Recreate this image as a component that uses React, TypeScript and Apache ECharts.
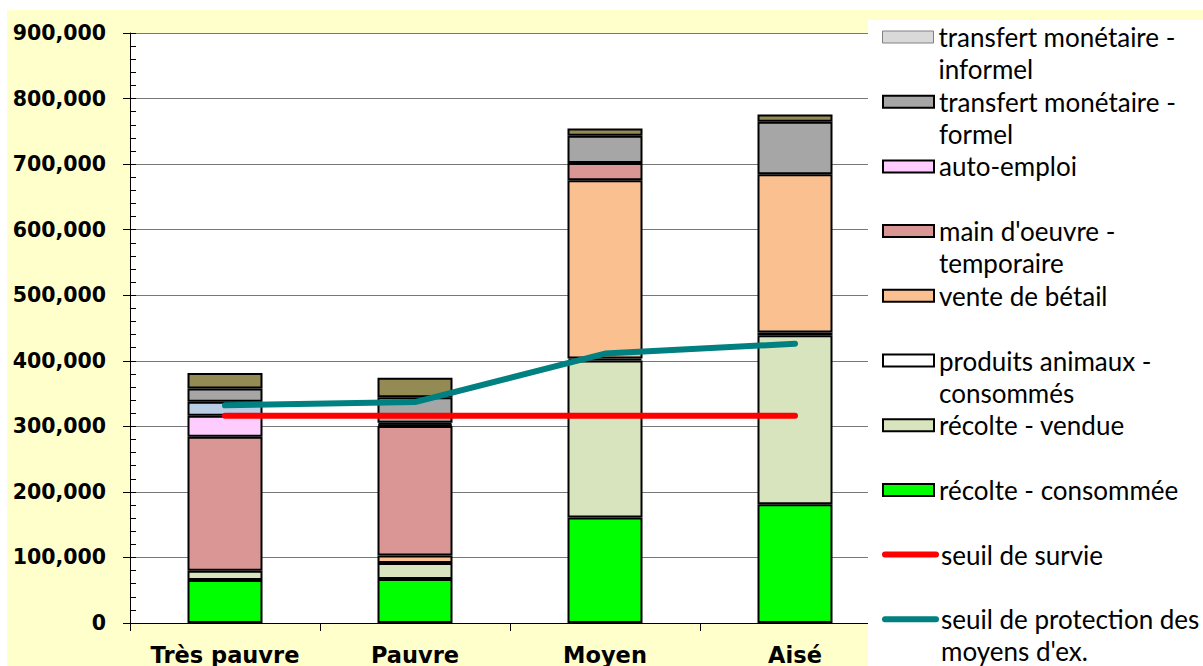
import React, { useEffect, useRef } from 'react';
import * as echarts from 'echarts';

const categories = ['Très pauvre', 'Pauvre', 'Moyen', 'Aisé'];

const recolteConsommee = [65600, 67000, 161000, 181000];
const recolteVendue = [14200, 24500, 239500, 258000];
const produitsAnimaux = [0, 0, 3000, 4000];
const venteBetail = [0, 11500, 272000, 241500];
const mainOeuvre = [204400, 197500, 26300, 0];
const autoEmploi = [32000, 2000, 0, 0];
const autreA = [21300, 3000, 0, 0];
const transfertFormel = [20400, 38800, 41300, 80200];
const transfertInformel = [0, 0, 0, 0];
const autreB = [23400, 30000, 11200, 11000];

const seuilSurvie = [316000, 316000, 316000, 316000];
const seuilProtection = [332000, 337000, 411000, 426000];

const N_INFORMEL = 'transfert monétaire - informel';
const N_FORMEL = 'transfert monétaire - formel';
const N_AUTO = 'auto-emploi';
const N_MAIN = "main d'oeuvre - temporaire";
const N_VENTE = 'vente de bétail';
const N_PROD = 'produits animaux - consommés';
const N_VENDUE = 'récolte - vendue';
const N_CONS = 'récolte - consommée';
const N_SURVIE = 'seuil de survie';
const N_PROT = "seuil de protection des moyens d'ex.";

const legendLabels: Record<string, string[]> = {
  [N_INFORMEL]: ['transfert monétaire -', 'informel'],
  [N_FORMEL]: ['transfert monétaire -', 'formel'],
  [N_AUTO]: ['auto-emploi'],
  [N_MAIN]: ["main d'oeuvre -", 'temporaire'],
  [N_VENTE]: ['vente de bétail'],
  [N_PROD]: ['produits animaux -', 'consommés'],
  [N_VENDUE]: ['récolte - vendue'],
  [N_CONS]: ['récolte - consommée'],
  [N_SURVIE]: ['seuil de survie'],
  [N_PROT]: ['seuil de protection des', "moyens d'ex."],
};

const legendOrder = [N_INFORMEL, N_FORMEL, N_AUTO, N_MAIN, N_VENTE, N_PROD, N_VENDUE, N_CONS, N_SURVIE, N_PROT];

function fmt(v: number) {
  return String(Math.round(v)).replace(/\B(?=(\d{3})+(?!\d))/g, ',');
}

export default function App() {
  const ref = useRef<HTMLDivElement>(null);
  useEffect(() => {
    if (!ref.current) return;
    const chart = echarts.init(ref.current, null, { renderer: 'svg' });

    const bar = (name: string, data: number[], color: string, border = '#000', bw = 2) => ({
      name,
      type: 'bar',
      stack: 'total',
      data: data.map((v) => (v === 0 ? null : v)),
      barWidth: 75,
      itemStyle: { color, borderColor: border, borderWidth: bw },
      emphasis: { disabled: true },
    });

    const LH = 32;
    const legends = legendOrder.map((name, i) => {
      const c = 37 + 64.7 * i;
      const lines = legendLabels[name];
      const two = lines.length > 1;
      const isLine = name === N_SURVIE || name === N_PROT;
      const lg: any = {
        data: [name],
        left: 882,
        top: c - (two ? LH * 1.5 : LH / 2),
        orient: 'vertical',
        padding: 0,
        itemWidth: 51,
        itemHeight: 12,
        selectedMode: false,
        z: 6,
        formatter: () => (two ? ' \n' + lines.join('\n') : lines[0]),
        textStyle: {
          fontFamily: 'Lato',
          fontSize: 26,
          lineHeight: LH,
          color: '#000',
        },
      };
      if (isLine) {
        lg.lineStyle = { width: 6, cap: 'round' };
        lg.itemStyle = { opacity: 0 };
      } else {
        lg.icon = 'rect';
      }
      if (name === N_INFORMEL) {
        lg.itemStyle = { borderWidth: 1, borderColor: '#808080' };
      }
      return lg;
    });

    chart.setOption({
      animation: false,
      backgroundColor: '#FFFFFF',
      graphic: [
        {
          type: 'rect',
          z: -10,
          silent: true,
          shape: { x: 7, y: 10, width: 1200, height: 660 },
          style: { fill: '#FFFFCC' },
        },
        {
          type: 'rect',
          z: 3,
          silent: true,
          shape: { x: 868, y: 20, width: 340, height: 650 },
          style: { fill: '#FFFFFF' },
        },
      ],
      grid: {
        left: 130,
        top: 33,
        right: 313,
        bottom: 43,
        show: true,
        backgroundColor: '#FFFFFF',
        borderWidth: 0,
      },
      legend: legends,
      xAxis: {
        type: 'category',
        data: categories,
        axisLine: { show: true, lineStyle: { color: '#000', width: 1 } },
        axisTick: { show: true, length: 8, lineStyle: { color: '#000' } },
        axisLabel: {
          interval: 0,
          fontFamily: 'DejaVu Sans',
          fontWeight: 'bold',
          fontSize: 22.5,
          color: '#000',
          margin: 20,
        },
        splitLine: { show: false },
      },
      yAxis: [
        {
          type: 'value',
          min: 0,
          max: 900000,
          interval: 100000,
          axisLine: { show: true, lineStyle: { color: '#000', width: 1 } },
          axisTick: { show: true, length: 7, lineStyle: { color: '#000' } },
          axisLabel: {
            fontFamily: 'DejaVu Sans',
            fontWeight: 'bold',
            fontSize: 20.5,
            color: '#000',
            margin: 24,
            formatter: (v: number) => fmt(v),
          },
          splitLine: { show: true, lineStyle: { color: '#777777', width: 1 } },
        },
        {
          type: 'value',
          min: 0,
          max: 900000,
          interval: 20000,
          position: 'left',
          axisLine: { show: false },
          axisTick: { show: true, inside: true, length: 6, lineStyle: { color: '#000' } },
          axisLabel: { show: false },
          splitLine: { show: false },
        },
      ],
      series: [
        bar(N_CONS, recolteConsommee, '#00FF00'),
        bar(N_VENDUE, recolteVendue, '#D7E4BD'),
        bar(N_PROD, produitsAnimaux, '#FFFFFF'),
        bar(N_VENTE, venteBetail, '#FAC090'),
        bar(N_MAIN, mainOeuvre, '#D99694'),
        bar(N_AUTO, autoEmploi, '#FFCCFF'),
        bar('autres revenus', autreA, '#B9CDE5'),
        bar(N_FORMEL, transfertFormel, '#A6A6A6'),
        bar(N_INFORMEL, transfertInformel, '#D9D9D9', '#808080', 1),
        bar('autres', autreB, '#948A54'),
        {
          name: N_SURVIE,
          type: 'line',
          data: seuilSurvie,
          symbol: 'none',
          itemStyle: { color: '#FF0000' },
          lineStyle: { color: '#FF0000', width: 6, cap: 'round', join: 'round' },
          emphasis: { disabled: true },
          z: 5,
        },
        {
          name: N_PROT,
          type: 'line',
          data: seuilProtection,
          symbol: 'none',
          itemStyle: { color: '#008080' },
          lineStyle: { color: '#008080', width: 6, cap: 'round', join: 'round' },
          emphasis: { disabled: true },
          z: 5,
        },
      ],
    });
    return () => chart.dispose();
  }, []);

  return (
    <div
      ref={ref}
      style={{ position: 'fixed', left: 0, top: 0, width: 1203, height: 666 }}
    />
  );
}
